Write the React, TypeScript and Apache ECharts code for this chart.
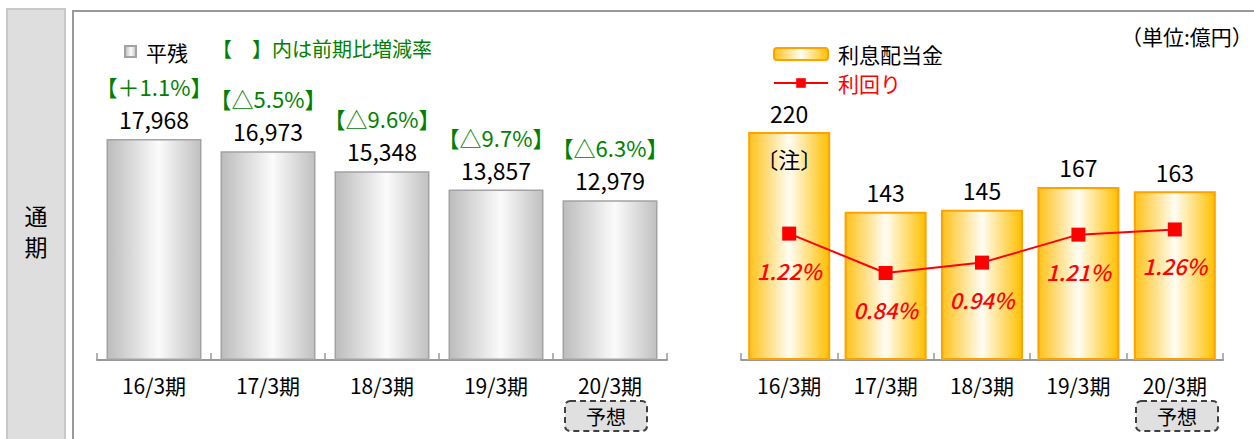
import React, { useEffect, useRef } from "react";
import * as echarts from "echarts";

const categories = ["16/3期", "17/3期", "18/3期", "19/3期", "20/3期"];
const avgBalance = [17968, 16973, 15348, 13857, 12979];
const balanceChange = [1.1, -5.5, -9.6, -9.7, -6.3];
const interestDividend = [220, 143, 145, 167, 163];
const yieldRate = [1.22, 0.84, 0.94, 1.21, 1.26];
const noteLabels = ["〔注〕", "", "", "", ""];

const FONT = "'Noto Sans CJK JP', 'Noto Sans', sans-serif";

export default function App() {
  const ref = useRef<HTMLDivElement>(null);
  useEffect(() => {
    if (!ref.current) return;
    const chart = echarts.init(ref.current, null, { renderer: "svg" });
    const fmtChange = (v: number) => (v >= 0 ? "＋" : "△") + Math.abs(v).toFixed(1) + "%";
    const grayGrad = new echarts.graphic.LinearGradient(0, 0, 1, 0, [
      { offset: 0, color: "#bcbcbc" },
      { offset: 0.55, color: "#fbfbfb" },
      { offset: 1, color: "#c0c0c0" },
    ]);
    const goldGrad = new echarts.graphic.LinearGradient(0, 0, 1, 0, [
      { offset: 0, color: "#ffc21a" },
      { offset: 0.5, color: "#fffdf4" },
      { offset: 1, color: "#ffc000" },
    ]);
    const yosouBox = (cx: number) => ({
      type: "group",
      children: [
        {
          type: "rect",
          shape: { x: cx - 41, y: 401, width: 82, height: 30, r: 5 },
          style: { fill: "#e0e0e0", stroke: "#404040", lineWidth: 2, lineDash: [6, 4] },
        },
        {
          type: "text",
          x: cx,
          y: 416,
          style: { text: "予想", font: `20px ${FONT}`, fill: "#000", align: "center", verticalAlign: "middle" },
        },
      ],
    });
    chart.setOption({
      animation: false,
      textStyle: { fontFamily: FONT },
      graphic: [
        {
          type: "rect",
          shape: { x: 7, y: 9, width: 58, height: 440 },
          style: { fill: "#dedede", stroke: "#c8c8c8", lineWidth: 2 },
          z: -10,
        },
        {
          type: "text",
          x: 36,
          y: 230,
          style: {
            text: "通\n期",
            font: `23px ${FONT}`,
            lineHeight: 31,
            fill: "#000",
            align: "center",
            verticalAlign: "middle",
          },
        },
        {
          type: "rect",
          shape: { x: 73, y: 11, width: 1200, height: 440 },
          style: { fill: "none", stroke: "#9a9a9a", lineWidth: 2 },
          z: -10,
        },
        {
          type: "text",
          x: 212,
          y: 48,
          style: { text: "【　】内は前期比増減率", font: `20px ${FONT}`, fill: "#008000", verticalAlign: "middle" },
        },
        {
          type: "text",
          x: 1121,
          y: 36,
          style: { text: "（単位:億円）", font: `21px ${FONT}`, fill: "#000", verticalAlign: "middle" },
        },
        yosouBox(606),
        yosouBox(1177),
      ],
      legend: [
        {
          data: ["平残"],
          left: 119,
          top: 36,
          icon: "rect",
          itemWidth: 11,
          itemHeight: 11,
          selectedMode: false,
          textStyle: { fontSize: 21, color: "#000", padding: [0, 0, 0, 5] },
        },
        {
          data: [
            { name: "利息配当金" },
            { name: "利回り", textStyle: { color: "#ff0000" } },
          ],
          left: 768,
          top: 38,
          orient: "vertical",
          itemWidth: 54,
          itemHeight: 12,
          itemGap: 7,
          selectedMode: false,
          textStyle: { fontSize: 21, lineHeight: 22, color: "#000", padding: [0, 0, 0, 5] },
        },
      ],
      grid: [
        { left: 97, top: 114, width: 570, height: 246 },
        { left: 741, top: 101, width: 482, height: 259 },
      ],
      xAxis: [0, 1].map((i) => ({
        type: "category",
        gridIndex: i,
        data: categories,
        axisLine: { lineStyle: { color: "#999", width: 2 } },
        axisTick: { show: true, inside: true, length: 7, lineStyle: { color: "#999", width: 1.5 } },
        axisLabel: { fontSize: 21, color: "#000", margin: 14, fontFamily: FONT },
      })),
      yAxis: [
        { type: "value", gridIndex: 0, min: 0, max: 20000, show: false },
        { type: "value", gridIndex: 1, min: 0, max: 250, show: false },
        { type: "value", gridIndex: 1, min: 0, max: 2.5, show: false },
      ],
      series: [
        {
          name: "平残",
          type: "bar",
          xAxisIndex: 0,
          yAxisIndex: 0,
          data: avgBalance,
          barWidth: 95,
          itemStyle: { color: grayGrad, borderColor: "#a3a3a3", borderWidth: 1.5 },
          label: {
            show: true,
            position: "top",
            distance: 4,
            formatter: (p: any) =>
              `{g|【${fmtChange(balanceChange[p.dataIndex])}】}\n{v|${avgBalance[p.dataIndex].toLocaleString("en-US")}}`,
            rich: {
              g: { fontSize: 22, lineHeight: 34, color: "#008000", fontFamily: FONT },
              v: { fontSize: 23, lineHeight: 32, color: "#000", fontFamily: FONT },
            },
          },
          silent: true,
        },
        {
          name: "利息配当金",
          type: "bar",
          xAxisIndex: 1,
          yAxisIndex: 1,
          data: interestDividend,
          barWidth: 82,
          barGap: "-100%",
          itemStyle: { color: goldGrad, borderColor: "#ffa200", borderWidth: 2 },
          label: { show: true, position: "top", distance: 8, fontSize: 23, color: "#000", fontFamily: FONT },
          silent: true,
        },
        {
          name: "注",
          type: "bar",
          xAxisIndex: 1,
          yAxisIndex: 1,
          data: interestDividend,
          barWidth: 82,
          barGap: "-100%",
          itemStyle: { color: "rgba(0,0,0,0)" },
          label: {
            show: true,
            position: "insideTop",
            distance: 15,
            fontSize: 22,
            color: "#000",
            fontFamily: FONT,
            formatter: (p: any) => noteLabels[p.dataIndex],
          },
          silent: true,
        },
        {
          name: "利回り",
          type: "line",
          xAxisIndex: 1,
          yAxisIndex: 2,
          data: yieldRate,
          symbol: "rect",
          symbolSize: 14,
          itemStyle: { color: "#ff0000" },
          lineStyle: { color: "#ff0000", width: 2 },
          label: {
            show: true,
            position: "bottom",
            distance: 18,
            fontSize: 22,
            fontStyle: "italic",
            fontWeight: 500,
            color: "#ff0000",
            fontFamily: FONT,
            formatter: (p: any) => p.value.toFixed(2) + "%",
          },
          silent: true,
          z: 5,
        },
      ],
    });
    return () => chart.dispose();
  }, []);
  return <div ref={ref} style={{ position: "absolute", left: 0, top: 0, width: 1254, height: 439 }} />;
}
